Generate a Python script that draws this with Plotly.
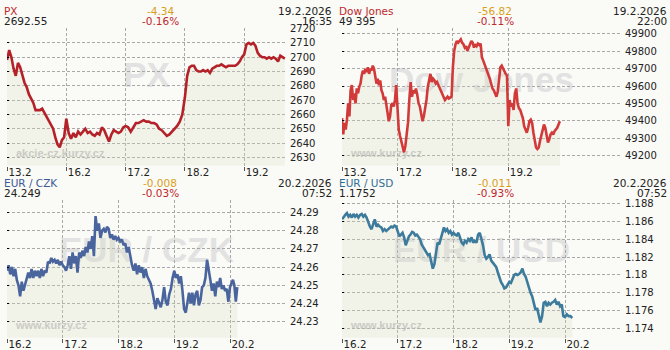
import plotly.graph_objects as go

# ---------------- data ----------------
px_days = ["13.2", "16.2", "17.2", "18.2", "19.2"]
px_values = [
    [2698, 2705, 2700, 2692, 2687, 2696, 2693, 2687, 2682, 2679, 2674, 2671, 2668, 2663,
     2663, 2663, 2664, 2661, 2659, 2656, 2653, 2650, 2644, 2639, 2637, 2642, 2644],
    [2657, 2647, 2643, 2647, 2644, 2648, 2646, 2648, 2650, 2647, 2648, 2646, 2645, 2647,
     2646, 2651, 2649, 2645, 2641, 2646, 2649, 2648, 2647, 2648, 2651],
    [2652, 2651, 2648, 2651, 2654, 2654, 2655, 2656, 2655, 2655, 2654, 2654, 2653, 2650,
     2649, 2647, 2645, 2646, 2648, 2650, 2652, 2655, 2660],
    [2672, 2687, 2693, 2694, 2694, 2691, 2690, 2690, 2691, 2690, 2691, 2689, 2692, 2693,
     2694, 2694, 2695, 2694, 2693, 2694, 2694, 2694, 2694, 2695, 2697, 2700],
    [2702, 2709, 2710, 2709, 2710, 2708, 2703, 2701, 2700, 2700, 2699, 2700, 2699, 2700,
     2699, 2697, 2701, 2700, 2699],
]
px_yticks = [2630, 2640, 2650, 2660, 2670, 2680, 2690, 2700, 2710, 2720]
px_yticklabels = ["2630", "2640", "2650", "2660", "2670", "2680", "2690", "2700", "2710", "2720"]

dj_days = ["13.2", "17.2", "18.2", "19.2"]
dj_values = [
    [49416, 49322, 49388, 49350, 49407, 49501, 49426, 49576, 49605, 49520, 49558, 49501,
     49586, 49558, 49595, 49614, 49661, 49689, 49670, 49699, 49680, 49708, 49670, 49699,
     49689, 49717, 49699, 49661, 49614, 49642, 49605, 49633, 49576, 49558, 49520, 49539,
     49501, 49445, 49398, 49426, 49492, 49501, 49482, 49520, 49605],
    [49501, 49350, 49313, 49275, 49247, 49219, 49256, 49313, 49388, 49520, 49623, 49539,
     49576, 49558, 49586, 49551, 49501, 49482, 49445, 49398, 49426, 49463, 49520, 49595,
     49633, 49670, 49623, 49642, 49633, 49614, 49623, 49605, 49586, 49576, 49558, 49529,
     49520, 49529, 49539, 49529, 49535, 49539],
    [49708, 49802, 49840, 49859, 49849, 49863, 49868, 49849, 49840, 49821, 49830, 49802,
     49821, 49830, 49859, 49849, 49821, 49840, 49830, 49844, 49836, 49844, 49765, 49746,
     49727, 49699, 49680, 49661, 49642, 49614, 49586, 49576, 49558, 49539, 49567, 49633,
     49708, 49717, 49699, 49689, 49670, 49661],
    [49369, 49520, 49482, 49501, 49463, 49558, 49586, 49501, 49473, 49463, 49445, 49416,
     49369, 49350, 49332, 49360, 49398, 49407, 49388, 49332, 49294, 49247, 49238, 49247,
     49285, 49313, 49341, 49379, 49360, 49322, 49275, 49294, 49322, 49332, 49322, 49341,
     49350, 49360, 49379, 49398],
]
dj_yticks = [49200, 49300, 49400, 49500, 49600, 49700, 49800, 49900]
dj_yticklabels = ["49200", "49300", "49400", "49500", "49600", "49700", "49800", "49900"]

czk_days = ["16.2", "17.2", "18.2", "19.2", "20.2"]
czk_values = [
    [24.258, 24.261, 24.256, 24.260, 24.255, 24.259, 24.253, 24.250, 24.244, 24.252,
     24.247, 24.250, 24.253, 24.257, 24.254, 24.259, 24.254, 24.258, 24.255, 24.258,
     24.254, 24.259, 24.255, 24.258, 24.257, 24.263, 24.262, 24.265, 24.263, 24.264,
     24.262, 24.264, 24.261, 24.263],
    [24.261, 24.260, 24.258, 24.261, 24.266, 24.259, 24.268, 24.262, 24.266, 24.257,
     24.268, 24.265, 24.269, 24.266, 24.271, 24.268, 24.274, 24.270, 24.277, 24.266,
     24.288, 24.280, 24.284, 24.276, 24.280, 24.281, 24.279, 24.282, 24.281, 24.276,
     24.278, 24.275, 24.277, 24.275],
    [24.276, 24.274, 24.275, 24.272, 24.273, 24.268, 24.271, 24.265, 24.261, 24.258,
     24.262, 24.256, 24.261, 24.257, 24.260, 24.254, 24.259, 24.255, 24.253, 24.251,
     24.247, 24.241, 24.237, 24.243, 24.240, 24.238, 24.242, 24.249, 24.241, 24.239,
     24.245, 24.248, 24.254],
    [24.258, 24.254, 24.256, 24.251, 24.255, 24.247, 24.237, 24.235, 24.241, 24.246,
     24.240, 24.246, 24.239, 24.245, 24.247, 24.239, 24.242, 24.249, 24.250, 24.254,
     24.264, 24.257, 24.253, 24.247, 24.251, 24.244, 24.252, 24.249, 24.254, 24.248,
     24.250, 24.247, 24.248, 24.241],
    [24.249, 24.251, 24.253, 24.250, 24.241, 24.249],
]
czk_yticks = [24.23, 24.24, 24.25, 24.26, 24.27, 24.28, 24.29]
czk_yticklabels = ["24.23", "24.24", "24.25", "24.26", "24.27", "24.28", "24.29"]

usd_days = ["16.2", "17.2", "18.2", "19.2", "20.2"]
usd_values = [
    [1.1862, 1.1865, 1.1867, 1.1869, 1.1865, 1.1867, 1.1864, 1.1868, 1.1865, 1.1867,
     1.1864, 1.1867, 1.1868, 1.1865, 1.1867, 1.1864, 1.1858, 1.1854, 1.1851, 1.1856,
     1.1862, 1.1854, 1.1856, 1.1854, 1.1853, 1.1849, 1.1851, 1.1849, 1.1851, 1.1853,
     1.1854, 1.1853, 1.1855, 1.1854],
    [1.1849, 1.1843, 1.1845, 1.1847, 1.1842, 1.1833, 1.1838, 1.1843, 1.1845, 1.1848,
     1.1847, 1.1844, 1.1845, 1.1842, 1.1840, 1.1834, 1.1831, 1.1827, 1.1825, 1.1822,
     1.1823, 1.1816, 1.1807, 1.1812, 1.1825, 1.1836, 1.1834, 1.1840, 1.1845, 1.1853,
     1.1849, 1.1851, 1.1847, 1.1849, 1.1845],
    [1.1847, 1.1845, 1.1844, 1.1847, 1.1840, 1.1836, 1.1834, 1.1838, 1.1836, 1.1840,
     1.1838, 1.1842, 1.1836, 1.1838, 1.1836, 1.1845, 1.1847, 1.1840, 1.1833, 1.1822,
     1.1818, 1.1820, 1.1823, 1.1816, 1.1814, 1.1812, 1.1809, 1.1803, 1.1796, 1.1792,
     1.1789, 1.1785, 1.1786, 1.1789],
    [1.1792, 1.1791, 1.1796, 1.1800, 1.1801, 1.1800, 1.1801, 1.1803, 1.1807, 1.1801,
     1.1798, 1.1792, 1.1785, 1.1780, 1.1776, 1.1769, 1.1761, 1.1763, 1.1756, 1.1747,
     1.1754, 1.1769, 1.1770, 1.1765, 1.1769, 1.1767, 1.1769, 1.1770, 1.1772, 1.1767,
     1.1770, 1.1765, 1.1767, 1.1754],
    [1.1753, 1.1756, 1.1754, 1.1754, 1.1752],
]
usd_yticks = [1.174, 1.176, 1.178, 1.180, 1.182, 1.184, 1.186, 1.188]
usd_yticklabels = ["1.174", "1.176", "1.178", "1.18", "1.182", "1.184", "1.186", "1.188"]

names = ["PX", "Dow Jones", "EUR / CZK", "EUR / USD"]
last_values = ["2692.55", "49 395", "24.249", "1.1752"]
changes = ["-4.34", "-56.82", "-0.008", "-0.011"]
changes_pct = ["-0.16%", "-0.11%", "-0.03%", "-0.93%"]
dates = ["19.2.2026", "19.2.2026", "20.2.2026", "20.2.2026"]
times = ["16:35", "22:00", "07:52", "07:52"]
watermarks = ["akcie-cz.kurzy.cz", "www.kurzy.cz", "www.kurzy.cz", "www.kurzy.cz"]

# ---------------- layout / style ----------------
W, H = 670, 350
PAPER = "#fafaf6"
GRID = "#a8a8a8"
TXT = "#222222"
FONT = "DejaVu Sans"

panels = [
    dict(days=px_days, vals=px_values, yt=px_yticks, ytl=px_yticklabels, last_span=0.685,
         xmax=4.705, yr=[2624.3, 2720.5], ox=0, oy=0,
         line="#b42128", name_col="#c0282d", wm_y=0.68),
    dict(days=dj_days, vals=dj_values, yt=dj_yticks, ytl=dj_yticklabels, last_span=0.93,
         xmax=5.033, yr=[49143.5, 49934], ox=335, oy=0,
         line="#d23a3a", name_col="#c0282d", wm_y=0.65),
    dict(days=czk_days, vals=czk_values, yt=czk_yticks, ytl=czk_yticklabels, last_span=0.13,
         xmax=5.004, yr=[24.22138, 24.29684], ox=0, oy=175,
         line="#4a659e", name_col="#3a5a98", wm_y=0.66),
    dict(days=usd_days, vals=usd_values, yt=usd_yticks, ytl=usd_yticklabels, last_span=0.13,
         xmax=5.004, yr=[1.17302, 1.18837], ox=335, oy=175,
         line="#3d7b9c", name_col="#2f6e94", wm_y=0.66),
]


def day_positions(day_values, last_span):
    xs, ys = [], []
    nd = len(day_values)
    for d, vals in enumerate(day_values):
        n = len(vals)
        if d < nd - 1:
            xs += [d + i / n for i in range(n)]
        else:
            xs += [d + last_span * i / (n - 1) for i in range(n)]
        ys += vals
    return xs, ys


fig = go.Figure()
layout = dict(
    width=W, height=H, margin=dict(l=0, r=0, t=0, b=0),
    paper_bgcolor=PAPER, plot_bgcolor="rgba(0,0,0,0)", showlegend=False,
    annotations=[], shapes=[],
)


def px2x(p):
    return p / W


def px2y(p):
    return 1 - p / H


for i, p in enumerate(panels):
    k = i + 1
    sx = "" if k == 1 else str(k)
    ov = str(k + 4)
    ox, oy = p["ox"], p["oy"]
    x0, x1 = ox + 7, ox + 286
    y0, y1 = oy + 23.3, oy + 163.3
    xs, ys = day_positions(p["vals"], p["last_span"])

    fig.add_trace(go.Scatter(
        x=xs, y=ys, mode="lines", xaxis="x" + sx, yaxis="y" + sx,
        line=dict(color=p["line"], width=2.6),
        fill="tozeroy", fillcolor="rgba(217,220,193,0.26)", hoverinfo="skip"))
    fig.add_trace(go.Scatter(x=[], y=[], xaxis="x" + sx, yaxis="y" + ov,
                             mode="lines", hoverinfo="skip"))

    layout["xaxis" + sx] = dict(
        domain=[px2x(x0), px2x(x1)], range=[0, p["xmax"]], anchor="y" + sx,
        tickvals=list(range(len(p["days"]))), ticktext=p["days"],
        showgrid=True, gridcolor=GRID, griddash="3px,2px", gridwidth=1,
        ticks="outside", ticklen=4, tickcolor="#555", zeroline=False, showline=False,
        tickfont=dict(family=FONT, size=10.3, color=TXT), ticklabelshift=13,
        ticklabelstandoff=-7, fixedrange=True)
    layout["yaxis" + sx] = dict(
        domain=[px2y(y1), px2y(y0)], range=p["yr"], anchor="x" + sx, side="right",
        tickvals=p["yt"], ticktext=p["ytl"],
        showgrid=True, gridcolor=GRID, griddash="3px,2px", gridwidth=1,
        ticks="", zeroline=False, showline=False, ticklabelstandoff=3,
        tickfont=dict(family=FONT, size=10, color=TXT), fixedrange=True)
    layout["yaxis" + ov] = dict(
        overlaying="y" + sx, anchor="x" + sx, side="left", range=p["yr"],
        tickvals=p["yt"], ticks="inside", ticklen=2, tickcolor="#000",
        showticklabels=False, showgrid=False, zeroline=False, showline=False,
        fixedrange=True)

    # watermarks (below data)
    layout["shapes"].append(dict(
        type="rect", xref="x" + sx + " domain", yref="y" + sx + " domain",
        x0=0, x1=1, y0=p["wm_y"] - 0.2, y1=p["wm_y"] + 0.2, layer="below",
        line=dict(width=0), fillcolor="rgba(0,0,0,0)",
        label=dict(text="<b>" + names[i] + "</b>", textposition="middle center",
                   font=dict(family="Liberation Sans", size=35, color="#e2e2e2"))))
    layout["shapes"].append(dict(
        type="rect", xref="x" + sx + " domain", yref="y" + sx + " domain",
        x0=0, x1=0.8, y0=0.0, y1=0.2, layer="below",
        line=dict(width=0), fillcolor="rgba(0,0,0,0)",
        label=dict(text="<b>" + watermarks[i] + "</b>", textposition="middle left",
                   padding=6,
                   font=dict(family="Liberation Sans", size=11, color="#c6c6c6"))))

    # header texts
    hdr = [
        (names[i], ox + 3, "left", oy + 5.8, p["name_col"]),
        (last_values[i], ox + 3, "left", oy + 16.3, TXT),
        (changes[i], ox + 160, "center", oy + 5.8, "#d9a01c"),
        (changes_pct[i], ox + 160, "center", oy + 16.3, "#c0282d"),
        (dates[i], ox + 333, "right", oy + 5.8, TXT),
        (times[i], ox + 333, "right", oy + 16.3, TXT),
    ]
    for text, hx, anc, hy, col in hdr:
        layout["annotations"].append(dict(
            text=text, x=px2x(hx), y=px2y(hy), xref="paper", yref="paper",
            xanchor=anc, yanchor="middle", showarrow=False, borderpad=0,
            font=dict(family=FONT, size=10.5, color=col)))

fig.update_layout(**layout)
fig.write_html("out.html")
